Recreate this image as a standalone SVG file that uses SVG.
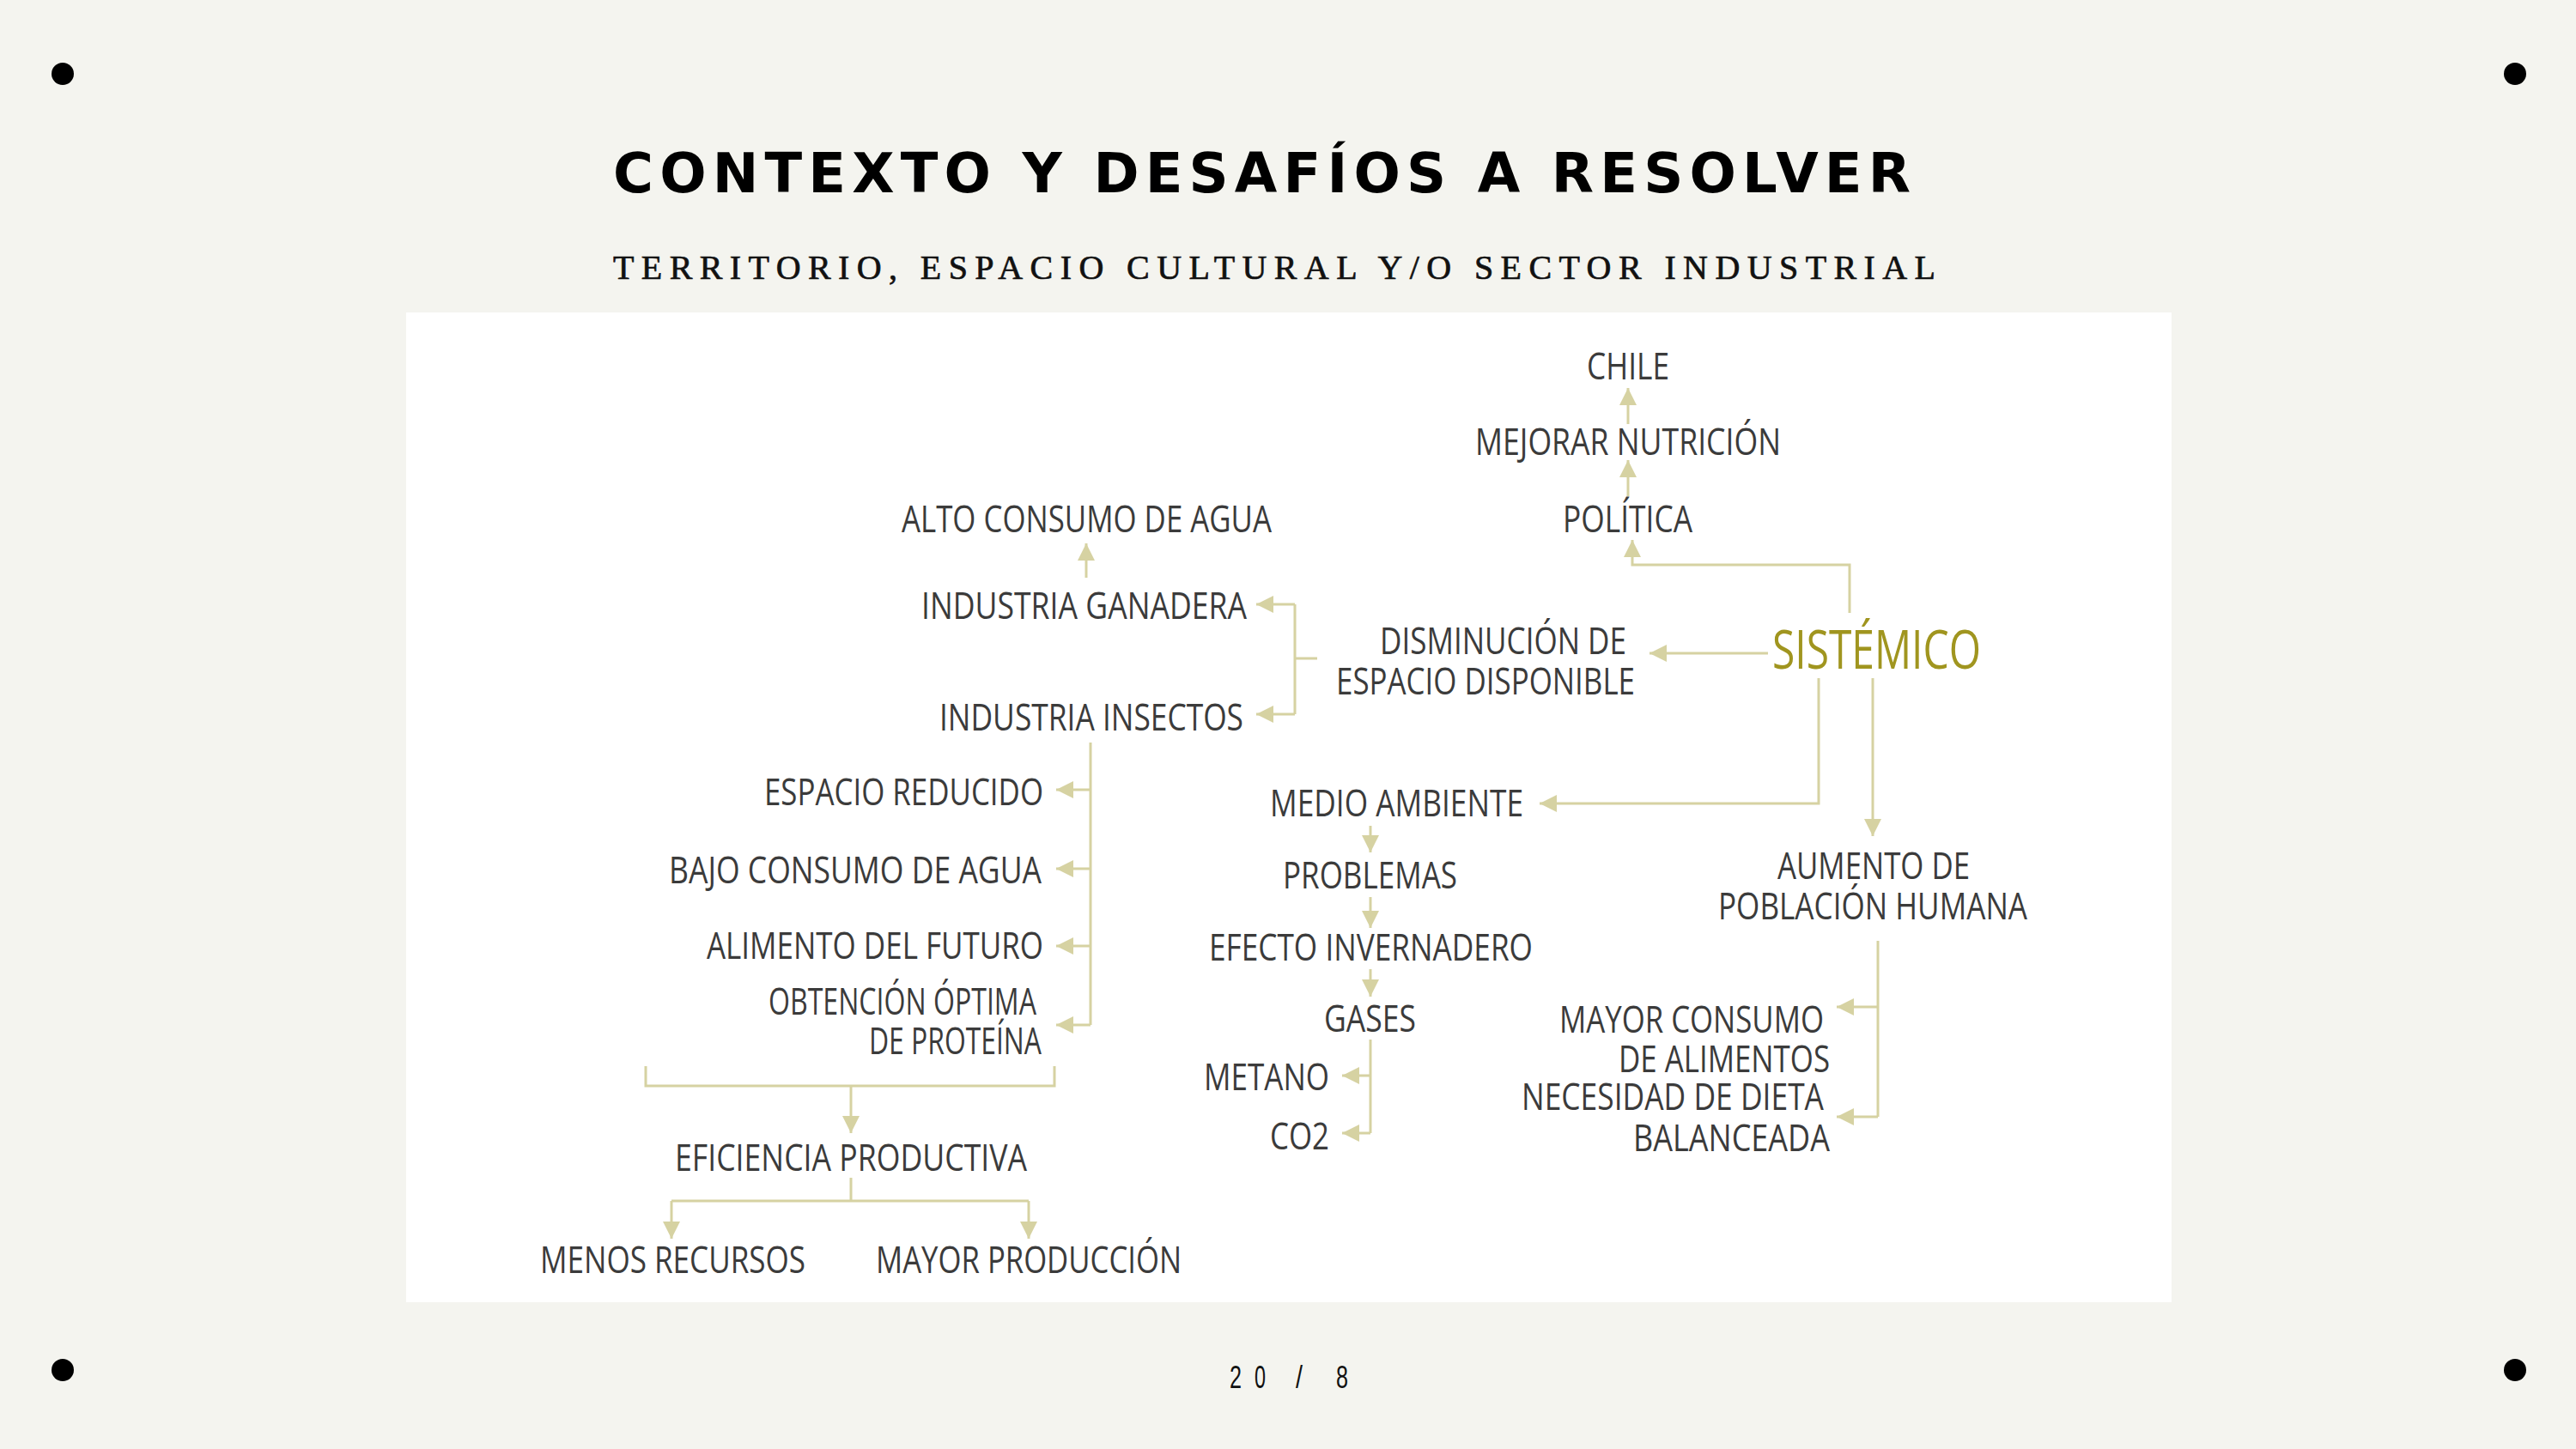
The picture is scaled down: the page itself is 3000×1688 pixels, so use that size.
<svg xmlns="http://www.w3.org/2000/svg" width="3000" height="1688" viewBox="0 0 3000 1688">
<defs>
<style>
.lbl{font-family:"Open Sans","Liberation Sans",sans-serif;font-size:43px;fill:#3b3b3b}
.sis{font-family:"Open Sans","Liberation Sans",sans-serif;font-size:62px;fill:#a0951f}
.ln{fill:none;stroke:#d6d2a2;stroke-width:3}
.ar{fill:none;stroke:#d6d2a2;stroke-width:3;marker-end:url(#ah)}
.num{font-family:"Liberation Sans",sans-serif;font-size:36px;fill:#111}
</style>
<marker id="ah" markerUnits="userSpaceOnUse" markerWidth="22" markerHeight="22" refX="20" refY="10" orient="auto" viewBox="0 0 22 22">
<path d="M0,0 L20,10 L0,20 z" fill="#d6d2a2"/>
</marker>
</defs>
<rect width="3000" height="1688" fill="#f4f4ef"/>
<circle cx="73" cy="86" r="13" fill="#000"/>
<circle cx="2929" cy="86" r="13" fill="#000"/>
<circle cx="73" cy="1596" r="13" fill="#000"/>
<circle cx="2929" cy="1596" r="13" fill="#000"/>
<text x="714" y="224" font-family="'DejaVu Sans','Liberation Sans',sans-serif" font-weight="bold" font-size="64" fill="#000" textLength="1511" lengthAdjust="spacing">CONTEXTO Y DESAFÍOS A RESOLVER</text>
<text x="714" y="325" font-family="'Liberation Serif',serif" font-size="40" fill="#111" stroke="#111" stroke-width="0.7" textLength="1540" lengthAdjust="spacing">TERRITORIO, ESPACIO CULTURAL Y/O SECTOR INDUSTRIAL</text>
<rect x="473" y="364" width="2056" height="1153" fill="#ffffff"/>

<g id="connectors">
<path class="ar" d="M1896,494 L1896,452"/>
<path class="ar" d="M1896,578 L1896,536"/>
<path class="ar" d="M2154,714 L2154,658 L1901,658 L1901,629"/>
<path class="ar" d="M2059,761 L1921,761"/>
<path class="ln" d="M1534,767 L1508,767 M1508,704 L1508,832"/>
<path class="ar" d="M1508,704 L1463,704"/>
<path class="ar" d="M1508,832 L1463,832"/>
<path class="ar" d="M1265,673 L1265,633"/>
<path class="ln" d="M1270,865 L1270,1194"/>
<path class="ar" d="M1270,920 L1230,920"/>
<path class="ar" d="M1270,1012 L1230,1012"/>
<path class="ar" d="M1270,1102 L1230,1102"/>
<path class="ar" d="M1270,1194 L1230,1194"/>
<path class="ln" d="M752,1242 L752,1265 L1228,1265 L1228,1242"/>
<path class="ar" d="M991,1265 L991,1320"/>
<path class="ln" d="M991,1372 L991,1399 M782,1399 L1198,1399"/>
<path class="ar" d="M782,1399 L782,1443"/>
<path class="ar" d="M1198,1399 L1198,1443"/>
<path class="ar" d="M2118,790 L2118,936 L1793,936"/>
<path class="ar" d="M2181,790 L2181,974"/>
<path class="ar" d="M1596,962 L1596,993"/>
<path class="ar" d="M1596,1045 L1596,1081"/>
<path class="ar" d="M1596,1129 L1596,1161"/>
<path class="ln" d="M1596,1211 L1596,1320"/>
<path class="ar" d="M1596,1253 L1563,1253"/>
<path class="ar" d="M1596,1320 L1563,1320"/>
<path class="ln" d="M2187,1096 L2187,1301"/>
<path class="ar" d="M2187,1173 L2139,1173"/>
<path class="ar" d="M2187,1301 L2139,1301"/>
</g>

<g id="n-chile"><text class="lbl" x="1848" y="442" textLength="96" lengthAdjust="spacingAndGlyphs">CHILE</text></g>
<g id="n-mejorar"><text class="lbl" x="1718" y="530" textLength="356" lengthAdjust="spacingAndGlyphs">MEJORAR NUTRICIÓN</text></g>
<g id="n-politica"><text class="lbl" x="1820" y="620" textLength="151" lengthAdjust="spacingAndGlyphs">POLÍTICA</text></g>
<g id="n-sistemico"><text class="sis" x="2064" y="779" textLength="243" lengthAdjust="spacingAndGlyphs">SISTÉMICO</text></g>
<g id="n-disminucion">
<text class="lbl" x="1607" y="762" textLength="287" lengthAdjust="spacingAndGlyphs">DISMINUCIÓN DE</text>
<text class="lbl" x="1556" y="809" textLength="348" lengthAdjust="spacingAndGlyphs">ESPACIO DISPONIBLE</text>
</g>
<g id="n-alto"><text class="lbl" x="1050" y="620" textLength="431" lengthAdjust="spacingAndGlyphs">ALTO CONSUMO DE AGUA</text></g>
<g id="n-ganadera"><text class="lbl" x="1073" y="721" textLength="379" lengthAdjust="spacingAndGlyphs">INDUSTRIA GANADERA</text></g>
<g id="n-insectos"><text class="lbl" x="1094" y="851" textLength="354" lengthAdjust="spacingAndGlyphs">INDUSTRIA INSECTOS</text></g>
<g id="n-espacio"><text class="lbl" x="890" y="938" textLength="325" lengthAdjust="spacingAndGlyphs">ESPACIO REDUCIDO</text></g>
<g id="n-bajo"><text class="lbl" x="779" y="1029" textLength="434" lengthAdjust="spacingAndGlyphs">BAJO CONSUMO DE AGUA</text></g>
<g id="n-alimento"><text class="lbl" x="823" y="1117" textLength="392" lengthAdjust="spacingAndGlyphs">ALIMENTO DEL FUTURO</text></g>
<g id="n-obtencion">
<text class="lbl" x="895" y="1182" textLength="312" lengthAdjust="spacingAndGlyphs">OBTENCIÓN ÓPTIMA</text>
<text class="lbl" x="1012" y="1228" textLength="201" lengthAdjust="spacingAndGlyphs">DE PROTEÍNA</text>
</g>
<g id="n-eficiencia"><text class="lbl" x="786" y="1364" textLength="410" lengthAdjust="spacingAndGlyphs">EFICIENCIA PRODUCTIVA</text></g>
<g id="n-menos"><text class="lbl" x="629" y="1483" textLength="309" lengthAdjust="spacingAndGlyphs">MENOS RECURSOS</text></g>
<g id="n-mayorprod"><text class="lbl" x="1020" y="1483" textLength="356" lengthAdjust="spacingAndGlyphs">MAYOR PRODUCCIÓN</text></g>
<g id="n-medio"><text class="lbl" x="1479" y="951" textLength="295" lengthAdjust="spacingAndGlyphs">MEDIO AMBIENTE</text></g>
<g id="n-problemas"><text class="lbl" x="1494" y="1035" textLength="203" lengthAdjust="spacingAndGlyphs">PROBLEMAS</text></g>
<g id="n-efecto"><text class="lbl" x="1408" y="1119" textLength="377" lengthAdjust="spacingAndGlyphs">EFECTO INVERNADERO</text></g>
<g id="n-gases"><text class="lbl" x="1542" y="1202" textLength="107" lengthAdjust="spacingAndGlyphs">GASES</text></g>
<g id="n-metano"><text class="lbl" x="1402" y="1270" textLength="146" lengthAdjust="spacingAndGlyphs">METANO</text></g>
<g id="n-co2"><text class="lbl" x="1479" y="1339" textLength="69" lengthAdjust="spacingAndGlyphs">CO2</text></g>
<g id="n-aumento">
<text class="lbl" x="2070" y="1024" textLength="224" lengthAdjust="spacingAndGlyphs">AUMENTO DE</text>
<text class="lbl" x="2001" y="1071" textLength="360" lengthAdjust="spacingAndGlyphs">POBLACIÓN HUMANA</text>
</g>
<g id="n-mayorconsumo">
<text class="lbl" x="1816" y="1203" textLength="308" lengthAdjust="spacingAndGlyphs">MAYOR CONSUMO</text>
<text class="lbl" x="1885" y="1249" textLength="246" lengthAdjust="spacingAndGlyphs">DE ALIMENTOS</text>
</g>
<g id="n-necesidad">
<text class="lbl" x="1772" y="1293" textLength="352" lengthAdjust="spacingAndGlyphs">NECESIDAD DE DIETA</text>
<text class="lbl" x="1902" y="1341" textLength="229" lengthAdjust="spacingAndGlyphs">BALANCEADA</text>
</g>

<g id="pagenum">
<text class="num" x="1432" y="1617" textLength="14" lengthAdjust="spacingAndGlyphs">2</text>
<text class="num" x="1461" y="1617" textLength="13" lengthAdjust="spacingAndGlyphs">0</text>
<text class="num" x="1509" y="1617" textLength="8" lengthAdjust="spacingAndGlyphs">/</text>
<text class="num" x="1556" y="1617" textLength="14" lengthAdjust="spacingAndGlyphs">8</text>
</g>
</svg>
